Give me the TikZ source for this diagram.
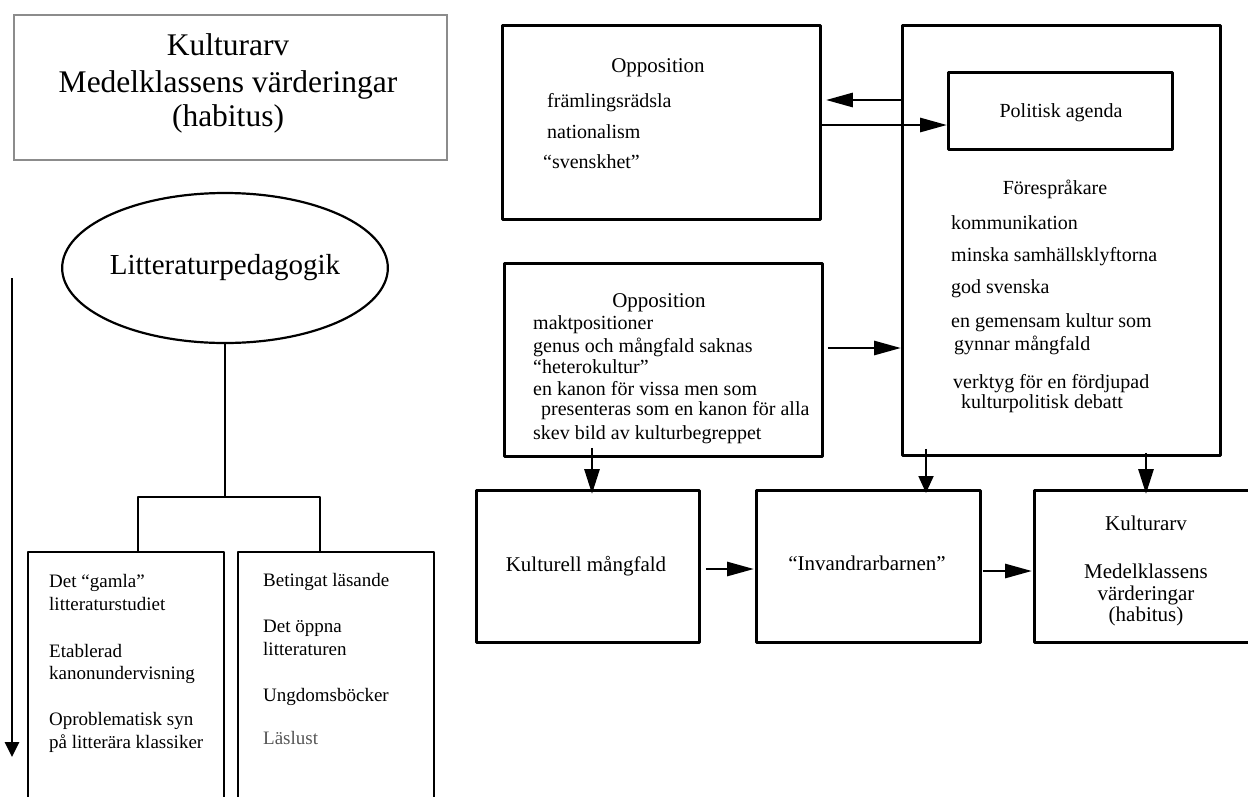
\documentclass[tikz,border=0pt]{standalone}
\usepackage{fontspec}
\setmainfont{Liberation Serif}
\usetikzlibrary{arrows.meta,shapes.geometric,calc}
\definecolor{framegray}{RGB}{140,140,140}
\definecolor{softink}{RGB}{85,85,85}
\begin{document}
\begin{tikzpicture}[x=1pt,y=-1pt,
  frame/.style={draw, line width=2.9pt, line join=round, inner sep=0pt, anchor=north west},
  thinframe/.style={draw, line width=2.4pt, line join=round, inner sep=0pt, anchor=north west},
  lbl/.style={inner sep=0pt, anchor=base west},
  clbl/.style={inner sep=0pt, anchor=base},
  f19/.style={font=\fontsize{19}{23}\selectfont},
  f20/.style={font=\fontsize{20}{24}\selectfont},
  f21/.style={font=\fontsize{21}{25}\selectfont},
  f31/.style={font=\fontsize{31.5}{36}\selectfont},
  link/.style={line width=2.9pt, -{Triangle[length=27pt,width=14pt]}},
  drop/.style={line width=2.9pt, -{Triangle[length=25pt,width=15pt]}},
  droplight/.style={line width=1.8pt, -{Triangle[length=17pt,width=15pt]}},
  tree/.style={line width=2.4pt, line join=round}
]
\useasboundingbox (0,0) rectangle (1248,796);
\clip (0,0) rectangle (1248,796);

% ---------- left column ----------
\node[draw=framegray, line width=2.2pt, inner sep=0pt, anchor=north west,
      minimum width=433pt, minimum height=145pt] (heritage) at (13,14) {};
\node[f31, clbl] (h1) at (228,55) {Kulturarv};
\node[f31, clbl] (h2) at (228,92) {Medelklassens värderingar};
\node[f31, clbl] (h3) at (228,126) {(habitus)};

\node[draw, ellipse, line width=2.2pt, minimum width=310pt, minimum height=150pt,
      inner sep=0pt, font=\fontsize{29}{33}\selectfont] (lp) at (225,268) {Litteraturpedagogik};

\node[thinframe, minimum width=196pt, minimum height=280pt] (lb) at (27,551) {};
\node[thinframe, minimum width=196pt, minimum height=280pt] (rb) at (237,551) {};

\coordinate (jn) at (lp.south |- 0,497);
\draw[tree] (lp.south) -- (jn);
\draw[tree] ($(lb.north west)+(111,0)$) |- (jn) -| ($(rb.north west)+(83,0)$);

\node[f19, lbl] (l1) at (49,587) {Det “gamla”};
\node[f19, lbl] (l2) at (49,610) {litteraturstudiet};
\node[f19, lbl] (l3) at (49,657) {Etablerad};
\node[f19, lbl] (l4) at (49,679) {kanonundervisning};
\node[f19, lbl] (l5) at (49,725) {Oproblematisk syn};
\node[f19, lbl] (l6) at (49,748) {på litterära klassiker};

\node[f19, lbl] (r1) at (263,586) {Betingat läsande};
\node[f19, lbl] (r2) at (263,632) {Det öppna};
\node[f19, lbl] (r3) at (263,655) {litteraturen};
\node[f19, lbl] (r4) at (263,701) {Ungdomsböcker};
\node[f19, lbl, text=softink] (r5) at (263,744) {Läslust};

\coordinate (ls) at (12,278);
\coordinate (le) at (12,757);
\draw[line width=2.9pt, -{Triangle[length=15pt,width=14pt]}] (ls) -- (le);

% ---------- right column ----------
\node[frame, minimum width=318pt, minimum height=194pt] (opp1) at (501,24) {};
\node[frame, minimum width=318pt, minimum height=430pt] (big) at (901,24) {};
\node[frame, minimum width=224pt, minimum height=77pt] (pa) at (947,71) {};
\node[frame, minimum width=318pt, minimum height=193pt] (opp2) at (503,262) {};
\node[frame, minimum width=223pt, minimum height=152pt] (kul) at (475,489) {};
\node[frame, minimum width=224pt, minimum height=152pt] (inv) at (755,489) {};
\node[frame, minimum width=240pt, minimum height=152pt] (kv) at (1033,489) {};

% first opposition
\node[f21, clbl] (o1t) at (658,72) {Opposition};
\node[f20, lbl] (o1a) at (547,107) {främlingsrädsla};
\node[f20, lbl] (o1b) at (547,138) {nationalism};
\node[f20, lbl] (o1c) at (543,168) {“svenskhet”};

% political agenda and advocates
\node[f20, clbl] (pat) at (1061,117) {Politisk agenda};
\node[f20, clbl] (adv) at (1055,194) {Förespråkare};
\node[f20, lbl] (ad1) at (951,229) {kommunikation};
\node[f20, lbl] (ad2) at (951,261) {minska samhällsklyftorna};
\node[f20, lbl] (ad3) at (951,293) {god svenska};
\node[f20, lbl] (ad4) at (951,327) {en gemensam kultur som};
\node[f20, lbl] (ad5) at (954,350) {gynnar mångfald};
\node[f20, lbl] (ad6) at (953,388) {verktyg för en fördjupad};
\node[f20, lbl] (ad7) at (961,408) {kulturpolitisk debatt};

% second opposition
\node[f21, clbl] (o2t) at (659,307) {Opposition};
\node[f20, lbl] (o2a) at (533,329) {maktpositioner};
\node[f20, lbl] (o2b) at (533,352) {genus och mångfald saknas};
\node[f20, lbl] (o2c) at (533,373) {“heterokultur”};
\node[f20, lbl] (o2d) at (533,395) {en kanon för vissa men som};
\node[f20, lbl] (o2e) at (541,415) {presenteras som en kanon för alla};
\node[f20, lbl] (o2f) at (533,439) {skev bild av kulturbegreppet};

% bottom row
\node[f21, clbl] (kult) at (586,571) {Kulturell mångfald};
\node[f21, clbl] (invt) at (867,570) {“Invandrarbarnen”};
\node[f21, clbl] (kv1) at (1146,530) {Kulturarv};
\node[f21, clbl] (kv2) at (1146,578) {Medelklassens};
\node[f21, clbl] (kv3) at (1146,600) {värderingar};
\node[f21, clbl] (kv4) at (1146,621) {(habitus)};

% connectors
\draw[link] ($(big.north west)+(0,76)$) -- ($(opp1.north east)+(4,76)$);
\draw[link] ($(opp1.north east)+(0,101)$) -- ($(pa.north west)+(0,54)$);
\draw[link] ($(opp2.north east)+(4,86)$) -- ($(big.north west)+(0,324)$);
\draw[drop] ($(opp2.south west)+(89,-10)$) -- ($(kul.north west)+(117,5)$);
\draw[droplight] ($(big.south west)+(25,-8)$) -- ($(inv.north west)+(171,4)$);
\draw[drop] ($(big.south west)+(245,-4)$) -- ($(kv.north west)+(113,5)$);
\draw[link] ($(kul.north east)+(5,80)$) -- ($(inv.north west)+(-1,80)$);
\draw[link] ($(inv.north east)+(1,82)$) -- ($(kv.north west)+(-1,82)$);
\end{tikzpicture}
\end{document}
